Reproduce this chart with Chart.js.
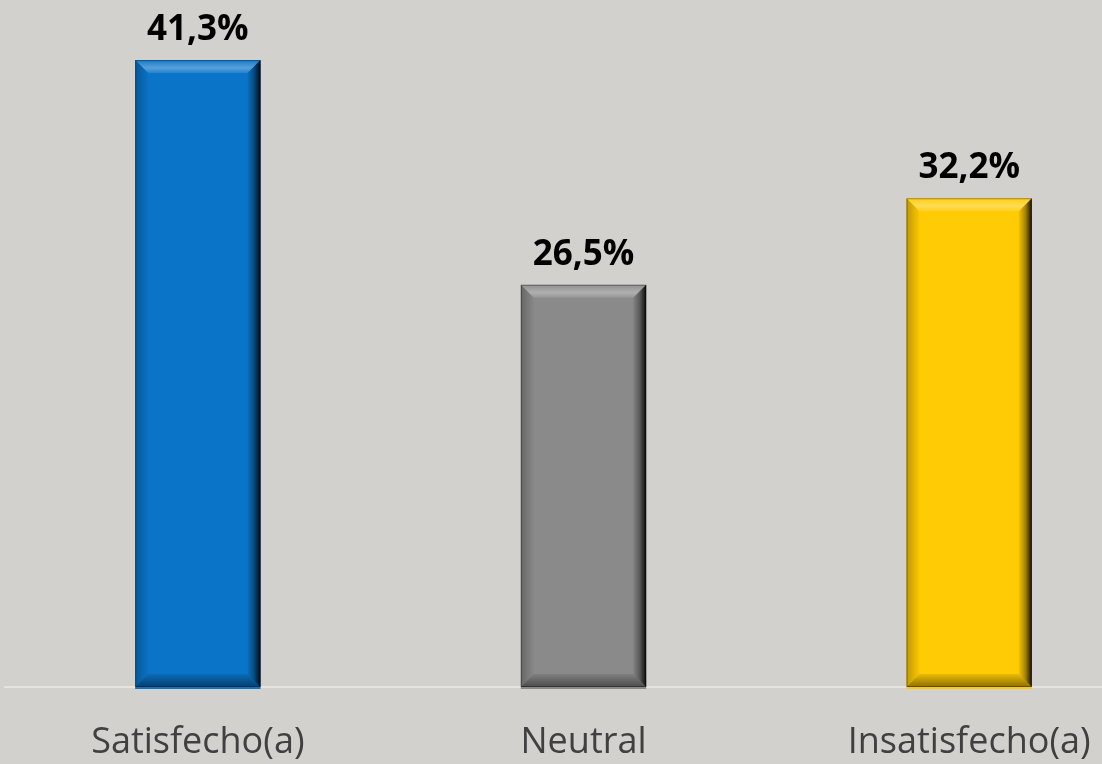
<!DOCTYPE html>
<html>
<head>
<meta charset="utf-8">
<script src="https://cdn.jsdelivr.net/npm/chart.js@4"></script>
<style>
  html, body { margin: 0; padding: 0; background: #d3d1cd; overflow: hidden; }
  #wrap { width: 1162px; height: 764px; }
</style>
</head>
<body>
<div id="wrap"><canvas id="grafico"></canvas></div>
<script>
// categorías y valores (%)
const categorias = ['Satisfecho(a)', 'Neutral', 'Insatisfecho(a)'];
const valores = [41.3, 26.5, 32.2];
const colores = ['#0a74c8', '#8a8a8a', '#ffcb05'];

// biselado tipo "PowerPoint" + etiquetas de valor
const biselPlugin = {
    id: 'bisel',
    afterDatasetsDraw(chart) {
        const ctx = chart.ctx;
        const meta = chart.getDatasetMeta(0);
        meta.data.forEach((bar, i) => {
            const w = bar.width;
            const l = bar.x - w / 2, r = bar.x + w / 2;
            const t = bar.y, bot = bar.base;
            const b = 13;
            ctx.save();
            // arriba (brillo)
            let g = ctx.createLinearGradient(0, t, 0, t + b);
            g.addColorStop(0, 'rgba(255,255,255,0.05)');
            g.addColorStop(0.6, 'rgba(255,255,255,0.32)');
            g.addColorStop(1, 'rgba(255,255,255,0.10)');
            ctx.fillStyle = g;
            ctx.beginPath();
            ctx.moveTo(l, t); ctx.lineTo(r, t); ctx.lineTo(r - b, t + b); ctx.lineTo(l + b, t + b);
            ctx.closePath(); ctx.fill();
            // derecha (sombra)
            g = ctx.createLinearGradient(r - b, 0, r, 0);
            g.addColorStop(0, 'rgba(0,0,0,0.05)');
            g.addColorStop(0.5, 'rgba(0,0,0,0.35)');
            g.addColorStop(1, 'rgba(0,0,0,0.92)');
            ctx.fillStyle = g;
            ctx.beginPath();
            ctx.moveTo(r, t); ctx.lineTo(r, bot); ctx.lineTo(r - b, bot - b); ctx.lineTo(r - b, t + b);
            ctx.closePath(); ctx.fill();
            // abajo
            g = ctx.createLinearGradient(0, bot - b, 0, bot);
            g.addColorStop(0, 'rgba(0,0,0,0.08)');
            g.addColorStop(1, 'rgba(0,0,0,0.45)');
            ctx.fillStyle = g;
            ctx.beginPath();
            ctx.moveTo(l, bot); ctx.lineTo(r, bot); ctx.lineTo(r - b, bot - b); ctx.lineTo(l + b, bot - b);
            ctx.closePath(); ctx.fill();
            // izquierda
            g = ctx.createLinearGradient(l, 0, l + b, 0);
            g.addColorStop(0, 'rgba(0,0,0,0.25)');
            g.addColorStop(1, 'rgba(0,0,0,0.02)');
            ctx.fillStyle = g;
            ctx.beginPath();
            ctx.moveTo(l, t); ctx.lineTo(l, bot); ctx.lineTo(l + b, bot - b); ctx.lineTo(l + b, t + b);
            ctx.closePath(); ctx.fill();
            // borde fino
            ctx.strokeStyle = 'rgba(0,0,0,0.35)';
            ctx.lineWidth = 1;
            ctx.strokeRect(l + 0.5, t + 0.5, w - 1, bot - t - 1);
            // línea de color bajo la barra
            ctx.fillStyle = colores[i];
            ctx.fillRect(l, bot, w, 2);
            // etiqueta
            ctx.fillStyle = '#000';
            ctx.font = 'bold 35px "Open Sans", sans-serif';
            ctx.textAlign = 'center';
            ctx.textBaseline = 'alphabetic';
            ctx.fillText(valores[i].toFixed(1).replace('.', ',') + '%', bar.x, t - 20);
            ctx.restore();
        });
    }
};

new Chart(document.getElementById('grafico'), {
    type: 'bar',
    data: {
        labels: categorias,
        datasets: [{
            data: valores,
            backgroundColor: colores,
            borderWidth: 0,
            categoryPercentage: 1,
            barPercentage: 0.325
        }]
    },
    options: {
        responsive: true,
        maintainAspectRatio: false,
        animation: false,
        layout: { padding: { left: 5, right: 0, top: 0, bottom: 0 } },
        plugins: { legend: { display: false }, tooltip: { enabled: false } },
        scales: {
            y: { display: false, min: 0, max: 45.26 },
            x: {
                grid: { display: false, drawTicks: false },
                border: { color: '#e6e4e0', width: 2 },
                ticks: { color: '#404040', font: { family: '"Open Sans", sans-serif', size: 36 }, padding: 34 },
                afterFit: s => { s.height = 77; }
            }
        }
    },
    plugins: [biselPlugin]
});
</script>
</body>
</html>
